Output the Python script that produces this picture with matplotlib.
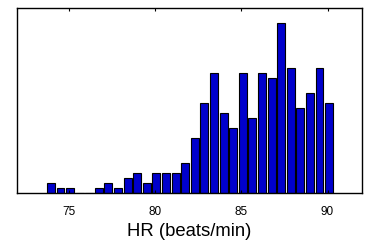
import numpy as np
import matplotlib
matplotlib.use('Agg')
import matplotlib.pyplot as plt

plt.rcParams['font.family'] = ['Liberation Sans', 'DejaVu Sans']

# histogram of heart rate, 30 bins
hr_min = 73.70
hr_max = 90.37
counts = [2, 1, 1, 0, 0, 1, 2, 1, 3, 4, 2, 4, 4, 4, 6,
          11, 18, 24, 16, 13, 24, 15, 24, 23, 34, 25, 17, 20, 25, 18]
xticks = [75, 80, 85, 90]

edges = np.linspace(hr_min, hr_max, len(counts) + 1)
centers = (edges[:-1] + edges[1:]) / 2
bw = edges[1] - edges[0]

fig = plt.figure(figsize=(3.71, 2.43), dpi=100)
ax = fig.add_axes([0.045, 0.2045, 0.931, 0.7615])
ax.bar(centers, counts, width=0.82 * bw, color='#0000cc',
       edgecolor='black', linewidth=0.8)
ax.set_xlim(72, 92)
ax.set_ylim(0, 37)
ax.set_xticks(xticks)
ax.set_yticks([])
ax.tick_params(axis='x', direction='in', length=2.5, width=0.8,
               top=True, labelsize=8.5, pad=9)
for s in ax.spines.values():
    s.set_linewidth(1.0)
ax.set_xlabel('HR (beats/min)', fontsize=13.3, labelpad=4)

fig.savefig('out.png', dpi=100)
